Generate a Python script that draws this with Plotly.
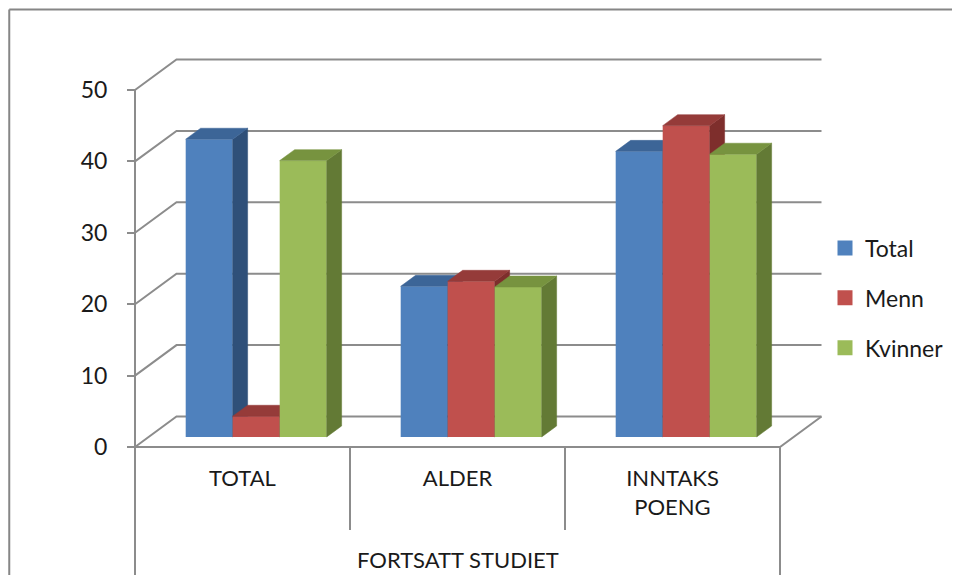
import plotly.graph_objects as go

# ---------------- data ----------------
categories = ["TOTAL", "ALDER", "INNTAKS<br>POENG"]
group_label = "FORTSATT STUDIET"
series_names = ["Total", "Menn", "Kvinner"]
total_vals = [41.7, 21.1, 40.0]
menn_vals = [2.9, 21.8, 43.6]
kvinner_vals = [38.7, 21.0, 39.6]
y_ticks = [0, 10, 20, 30, 40, 50]

series_vals = [total_vals, menn_vals, kvinner_vals]
front_colors = ["#4F81BD", "#C0504D", "#9BBB59"]
top_colors = ["#3C6597", "#953B39", "#77933F"]
side_colors = ["#2F5079", "#7E2E2C", "#637A35"]

# ---------------- geometry (oblique 3D projection) ----------------
# the page body has an 8px margin, so the figure is made 16px smaller
OFF = 8.0
W, H = 944, 567
PX0, PY0 = 135.0 - OFF, 447.0 - OFF   # front-plane origin in figure pixels
CAT_PX = 215.0                   # pixels per category
VAL_PX = 7.14                    # pixels per value unit
DEPTH_DX = 41.5 / CAT_PX         # full-depth shift (category units)
DEPTH_DY = 30.5 / VAL_PX         # full-depth shift (value units)
F_FRONT = 0.33                   # depth of bar front faces
F_DEPTH = 0.36                   # bar depth
BW = 47.0 / CAT_PX               # bar width

x_range = [-0.5 - PX0 / CAT_PX, -0.5 + (W - PX0) / CAT_PX]
y_range = [(PY0 - H) / VAL_PX, PY0 / VAL_PX]

n = len(categories)
x_left, x_right = -0.5, n - 0.5
y_bottom = y_range[0] - 1

GRID = "#8C8C8C"
TXT = "#1a1a1a"
FONT = "Lato, 'Open Sans', sans-serif"

fig = go.Figure()

bdx, bdy = F_DEPTH * DEPTH_DX, F_DEPTH * DEPTH_DY
sx, sy = F_FRONT * DEPTH_DX, F_FRONT * DEPTH_DY
cat_pos = list(range(n))

for s, (vals, name) in enumerate(zip(series_vals, series_names)):
    k = "" if s == 0 else str(s + 1)
    xa, ya = "x" + k, "y" + k
    off = -1.5 * BW + s * BW
    fig.add_trace(go.Bar(
        x=[c + sx for c in cat_pos], y=vals, base=sy, width=BW, offset=off,
        marker=dict(color=front_colors[s], line=dict(width=0)),
        xaxis=xa, yaxis=ya, showlegend=False, name=name, hoverinfo="skip"))
    for c, v in zip(cat_pos, vals):
        x0 = c + sx + off
        x1 = x0 + BW
        b0 = sy
        t = v + sy
        # side face
        fig.add_trace(go.Scatter(
            x=[x1, x1, x1 + bdx, x1 + bdx, x1], y=[b0, t, t + bdy, b0 + bdy, b0],
            fill="toself", fillcolor=side_colors[s], mode="lines",
            line=dict(color=side_colors[s], width=0.5),
            xaxis=xa, yaxis=ya, showlegend=False, hoverinfo="skip"))
        # top face
        fig.add_trace(go.Scatter(
            x=[x0, x1, x1 + bdx, x0 + bdx, x0], y=[t, t, t + bdy, t + bdy, t],
            fill="toself", fillcolor=top_colors[s], mode="lines",
            line=dict(color=top_colors[s], width=0.5),
            xaxis=xa, yaxis=ya, showlegend=False, hoverinfo="skip"))

# legend entries
for s, name in enumerate(series_names):
    fig.add_trace(go.Scatter(
        x=[None], y=[None], mode="markers", name=name, legendgroup=name,
        marker=dict(symbol="square", size=15, color=front_colors[s])))

# ---------------- walls, gridlines, category dividers ----------------
shapes = []
for v in y_ticks:
    shapes.append(dict(
        type="path", xref="x", yref="y", layer="below",
        path=f"M{x_left},{v} L{x_left + DEPTH_DX},{v + DEPTH_DY} L{x_right + DEPTH_DX},{v + DEPTH_DY}",
        line=dict(color=GRID, width=2)))
# floor front edge and right edge
shapes.append(dict(type="path", xref="x", yref="y", layer="below",
                   path=f"M{x_left},0 L{x_right},0 L{x_right + DEPTH_DX},{DEPTH_DY}",
                   line=dict(color=GRID, width=2)))
# value axis line + outer category borders
shapes.append(dict(type="line", xref="x", yref="y", layer="below",
                   x0=x_left, x1=x_left, y0=y_ticks[-1], y1=y_bottom,
                   line=dict(color=GRID, width=2)))
shapes.append(dict(type="line", xref="x", yref="y", layer="below",
                   x0=x_right, x1=x_right, y0=0, y1=y_bottom,
                   line=dict(color=GRID, width=2)))
inner_bottom = -83.0 / VAL_PX
for c in range(1, n):
    shapes.append(dict(type="line", xref="x", yref="y", layer="below",
                       x0=c - 0.5, x1=c - 0.5, y0=0, y1=inner_bottom,
                       line=dict(color=GRID, width=2)))
# chart border (top and left edges visible)
bx = (8.5 - OFF) / W + 0.0008
by = 1 - (9.0 - OFF) / H - 0.001
shapes.append(dict(type="line", xref="paper", yref="paper",
                   x0=bx, x1=1.0, y0=by, y1=by,
                   line=dict(color="#868686", width=2)))
shapes.append(dict(type="line", xref="paper", yref="paper",
                   x0=bx, x1=bx, y0=0.0, y1=by,
                   line=dict(color="#868686", width=2)))

fig.add_annotation(x=(n - 1) / 2, y=-112.0 / VAL_PX, xref="x", yref="y",
                   text=group_label, showarrow=False,
                   font=dict(size=22, color=TXT, family=FONT))

fig.update_layout(
    width=W, height=H,
    margin=dict(l=0, r=0, t=0, b=0),
    paper_bgcolor="white", plot_bgcolor="white",
    barmode="overlay",
    font=dict(family=FONT, size=22, color=TXT),
    shapes=shapes,
    xaxis=dict(range=x_range, domain=[0, 1], anchor="free",
               position=(H - PY0) / H, showgrid=False, zeroline=False,
               showline=False, tickmode="array", tickvals=cat_pos,
               ticktext=categories, ticks="", ticklabelstandoff=16,
               tickfont=dict(size=22, family=FONT, color=TXT)),
    yaxis=dict(range=y_range, domain=[0, 1], anchor="free",
               position=PX0 / W, showgrid=False, zeroline=False,
               showline=False, tickmode="array", tickvals=y_ticks,
               ticks="outside", ticklen=8, tickwidth=2, tickcolor=GRID,
               ticklabelstandoff=15,
               tickfont=dict(size=23, family=FONT, color=TXT)),
    xaxis2=dict(range=x_range, overlaying="x", visible=False, anchor="y2"),
    yaxis2=dict(range=y_range, overlaying="y", visible=False, anchor="x2"),
    xaxis3=dict(range=x_range, overlaying="x", visible=False, anchor="y3"),
    yaxis3=dict(range=y_range, overlaying="y", visible=False, anchor="x3"),
    legend=dict(x=(825.0 - OFF) / W, xanchor="left", y=(H - (298.0 - OFF)) / H,
                yanchor="middle",
                font=dict(size=23, family=FONT, color=TXT),
                tracegroupgap=17, bgcolor="rgba(0,0,0,0)", traceorder="grouped"),
)

fig.write_html("out.html")
